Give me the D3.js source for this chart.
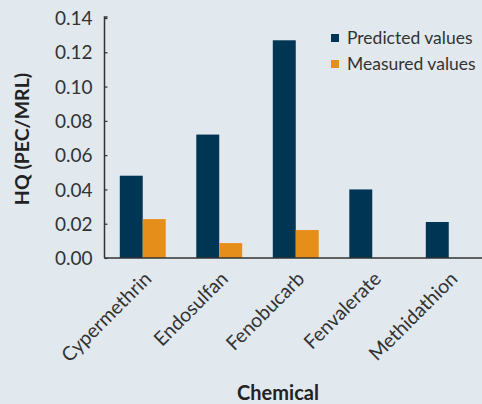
<!DOCTYPE html>
<html><head><meta charset="utf-8">
<script src="https://cdn.jsdelivr.net/npm/d3@7"></script>
<style>
html,body{margin:0;padding:0;background:#e1e8ee;}
svg{display:block;}
</style></head>
<body>
<script>
const categories = ["Cypermethrin","Endosulfan","Fenobucarb","Fenvalerate","Methidathion"];
const seriesNames = ["Predicted values","Measured values"];
const predicted = [0.048, 0.072, 0.127, 0.040, 0.021];
const measured = [0.0227, 0.0087, 0.0163, null, null];
const yTicks = [0, 0.02, 0.04, 0.06, 0.08, 0.10, 0.12, 0.14];
const colors = ["#003554", "#e68e1a"];

const W = 482, H = 404;
const margin = {left: 104.5, top: 18, bottom: 146};
const svg = d3.select("body").append("svg").attr("width", W).attr("height", H);
svg.append("rect").attr("width", W).attr("height", H).attr("fill", "#e1e8ee");

const x = d3.scaleBand().domain(categories).range([margin.left, margin.left + 5*76.5]).paddingInner(0.4).paddingOuter(0.2);
const xs = d3.scaleBand().domain(seriesNames).range([0, x.bandwidth()]);
const y = d3.scaleLinear().domain([0, 0.14]).range([258, 18]);

const font = "Lato, 'Open Sans', sans-serif";
const textColor = "#333";

const data = categories.map((c,i)=>({c, vals:[predicted[i], measured[i]]}));
const g = svg.append("g");
data.forEach(d=>{
  d.vals.forEach((v,j)=>{
    if (v == null) return;
    g.append("rect")
      .attr("x", x(d.c) + xs(seriesNames[j]))
      .attr("y", y(v))
      .attr("width", xs.bandwidth())
      .attr("height", y(0) - y(v))
      .attr("fill", colors[j]);
  });
});

// y axis
const yAxis = d3.axisRight(y).tickValues(yTicks).tickFormat(d3.format(".2f")).tickSize(3);
const ya = svg.append("g").attr("transform", `translate(${margin.left},0)`).call(yAxis);
ya.select(".domain").attr("stroke", "#333").attr("stroke-width", 1.5).attr("d", `M3,${17}H0V${258}`);
ya.selectAll(".tick line").attr("stroke", "#333").attr("stroke-width", 1.2);
ya.selectAll(".tick text").attr("font-family", font).attr("font-size", 19).attr("fill", textColor)
  .attr("text-anchor", "end").attr("x", -12).attr("dy", "0.35em");

// x axis
const xAxis = d3.axisBottom(x).tickSize(0).tickPadding(0);
const xa = svg.append("g").attr("transform", `translate(0,258)`).call(xAxis);
xa.select(".domain").attr("stroke", "#333").attr("stroke-width", 1.5).attr("d", `M${margin.left},0H${W}`);
xa.selectAll(".tick text").attr("font-family", font).attr("font-size", 19.5).attr("fill", textColor)
  .attr("text-anchor", "end").attr("y", 0).attr("dy", 0)
  .attr("transform", "translate(10,22) rotate(-45)");

// axis titles
svg.append("text").attr("transform", "translate(28.5,139) rotate(-90)")
  .attr("text-anchor", "middle").attr("font-family", font).attr("font-weight", "bold")
  .attr("font-size", 19.5).attr("fill", "#222").text("HQ (PEC/MRL)");
svg.append("text").attr("x", 278).attr("y", 400)
  .attr("text-anchor", "middle").attr("font-family", font).attr("font-weight", "bold")
  .attr("font-size", 20).attr("fill", "#222").text("Chemical");

// legend
const leg = svg.append("g");
seriesNames.forEach((s,i)=>{
  const yy = 38 + i*26;
  leg.append("rect").attr("x", 331).attr("y", yy-4).attr("width", 8).attr("height", 8).attr("fill", colors[i]);
  leg.append("text").attr("x", 347).attr("y", yy + 6)
    .attr("font-family", font).attr("font-size", 17.5).attr("fill", textColor).text(s);
});
</script>
</body></html>
